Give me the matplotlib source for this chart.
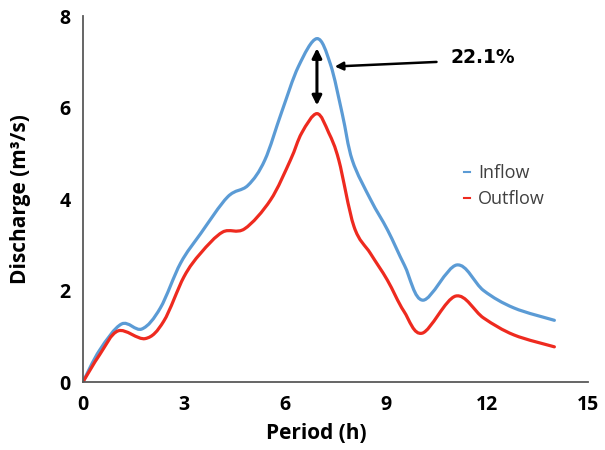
import matplotlib
matplotlib.use("Agg")
import matplotlib.pyplot as plt
from matplotlib.path import Path
from matplotlib.patches import PathPatch
from matplotlib.lines import Line2D
import numpy as np

plt.rcParams["font.family"] = ["Open Sans", "DejaVu Sans"]

# values (period in h, discharge in m3/s)
inflow_t = [0, 0.5, 1.15, 1.75, 2.3, 2.9, 3.5, 4.3, 4.9, 5.4, 5.9, 6.4, 6.95,
            7.35, 7.7, 8.0, 8.55, 9.05, 9.55, 10.1, 11.1, 11.9, 12.8, 14.0]
inflow_q = [0, 0.7, 1.27, 1.16, 1.62, 2.6, 3.25, 4.05, 4.3, 4.85, 5.9, 6.9, 7.51,
            6.95, 5.87, 4.85, 3.98, 3.32, 2.55, 1.79, 2.56, 2.0, 1.62, 1.35]

outflow_t = [0, 0.5, 1.05, 1.85, 2.4, 3.0, 3.5, 4.15, 4.8, 5.57, 6.16, 6.5, 6.95,
             7.3, 7.6, 8.05, 8.54, 9.04, 9.53, 10.08, 11.07, 11.9, 12.8, 14.0]
outflow_q = [0, 0.6, 1.12, 0.95, 1.33, 2.3, 2.82, 3.28, 3.35, 3.98, 4.85, 5.45, 5.87,
             5.45, 4.85, 3.4, 2.81, 2.23, 1.55, 1.07, 1.88, 1.4, 1.03, 0.77]

x_ticks = [0, 3, 6, 9, 12, 15]
y_ticks = [0, 2, 4, 6, 8]
reduction_label = "22.1%"

BLUE = "#5b9bd5"
RED = "#ee2a1f"


def smooth_path(x, y):
    """Excel-like smoothed line: Catmull-Rom segments as cubic Beziers."""
    p = np.column_stack([x, y]).astype(float)
    verts = [p[0]]
    codes = [Path.MOVETO]
    n = len(p)
    for i in range(n - 1):
        p0 = p[i - 1] if i > 0 else p[i]
        p3 = p[i + 2] if i + 2 < n else p[i + 1]
        c1 = p[i] + (p[i + 1] - p0) / 6.0
        c2 = p[i + 1] - (p3 - p[i]) / 6.0
        verts += [c1, c2, p[i + 1]]
        codes += [Path.CURVE4] * 3
    return Path(verts, codes)


fig = plt.figure(figsize=(6.05, 4.5), dpi=100)
ax = fig.add_axes([0.137, 0.151, 0.835, 0.813])

for t, q, c in [(inflow_t, inflow_q, BLUE), (outflow_t, outflow_q, RED)]:
    ax.add_patch(PathPatch(smooth_path(t, q), facecolor="none", edgecolor=c,
                           lw=2.3, capstyle="round", joinstyle="round"))

ax.set_xlim(0, 15)
ax.set_ylim(0, 8)
ax.set_xticks(x_ticks)
ax.set_yticks(y_ticks)
ax.tick_params(length=0, labelsize=14, pad=9)
for lab in ax.get_xticklabels() + ax.get_yticklabels():
    lab.set_fontweight("bold")
for s in ["top", "right"]:
    ax.spines[s].set_visible(False)
for s in ["left", "bottom"]:
    ax.spines[s].set_color("#595959")
    ax.spines[s].set_linewidth(1.3)

ax.set_xlabel("Period (h)", fontsize=15, fontweight="bold", va="top")
ax.set_ylabel("Discharge (m³/s)", fontsize=15, fontweight="bold")
ax.xaxis.set_label_coords(0.463, -0.112)
ax.yaxis.set_label_coords(-0.103, 0.5)

# peak attenuation annotation
t_peak = inflow_t[inflow_q.index(max(inflow_q))]
ax.annotate("", xy=(t_peak, 7.3), xytext=(t_peak, 6.05),
            arrowprops=dict(arrowstyle="<|-|>", color="black", lw=2.2,
                            mutation_scale=14, shrinkA=0, shrinkB=0))
ax.annotate("", xy=(7.48, 6.9), xytext=(10.5, 7.0),
            arrowprops=dict(arrowstyle="-|>", color="black", lw=1.8,
                            mutation_scale=12, shrinkA=0, shrinkB=0))
ax.text(10.92, 7.1, reduction_label, fontsize=13.5, fontweight="bold",
        family="DejaVu Sans", ha="left", va="center")

handles = [Line2D([], [], color=BLUE, lw=1.5), Line2D([], [], color=RED, lw=1.5)]
ax.legend(handles, ["Inflow", "Outflow"], loc="upper left",
          bbox_to_anchor=(0.737, 0.62), frameon=False, fontsize=13,
          handlelength=0.3, handletextpad=0.45, labelspacing=0.42,
          borderpad=0, labelcolor="#404040")

fig.savefig("out.png", dpi=100)
